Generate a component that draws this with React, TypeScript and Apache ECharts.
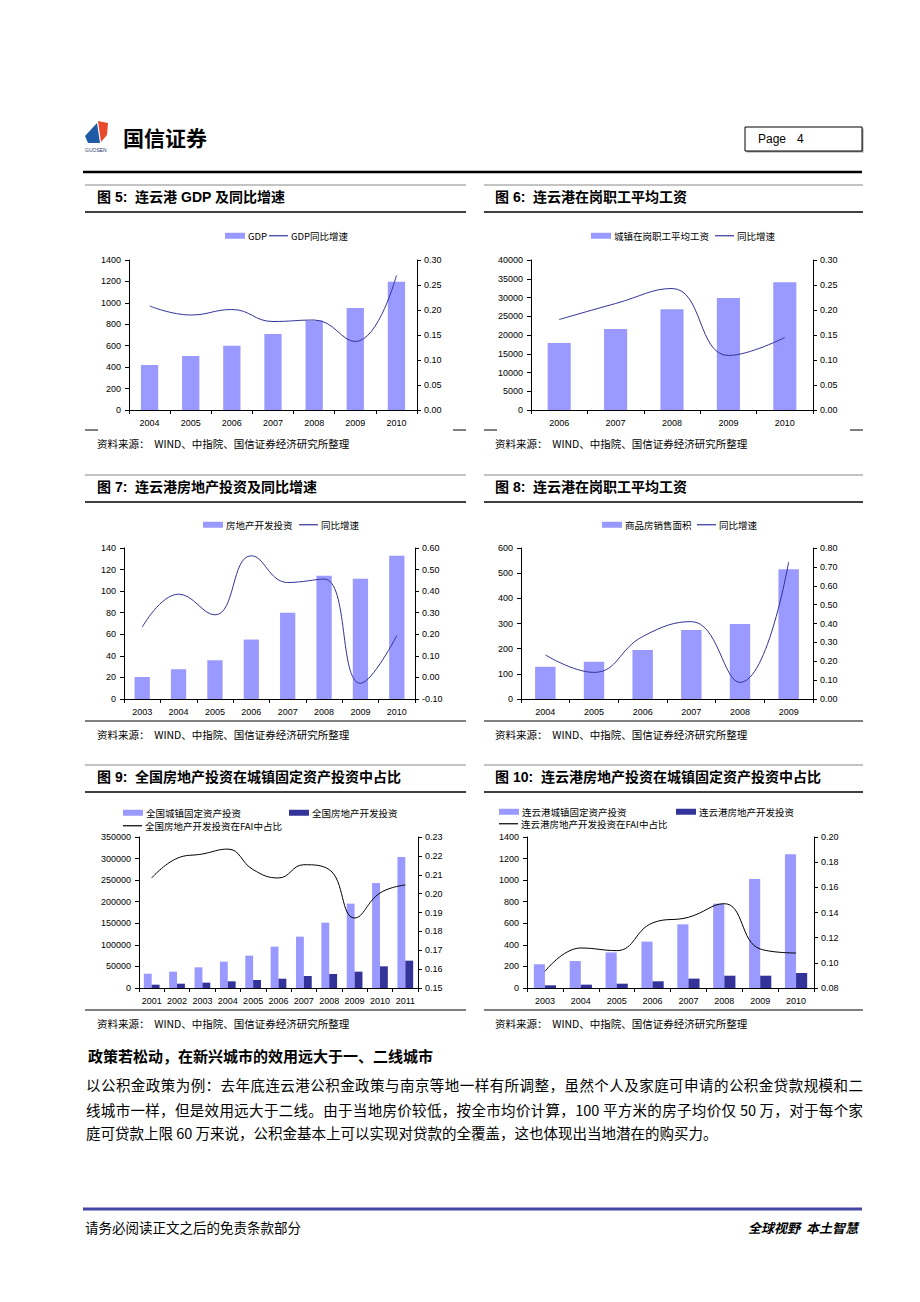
import React, { useEffect, useRef } from 'react';
import * as echarts from 'echarts';

// ---------- DATA ----------
const c5Years = ['2004', '2005', '2006', '2007', '2008', '2009', '2010'];
const c5Gdp = [420, 504, 600, 709, 834, 952, 1198];
const c5Growth = [0.208, 0.19, 0.201, 0.177, 0.18, 0.137, 0.269];

const c6Years = ['2006', '2007', '2008', '2009', '2010'];
const c6Wage = [17900, 21600, 26900, 29900, 34100];
const c6Growth = [0.181, 0.213, 0.243, 0.109, 0.145];

const c7Years = ['2003', '2004', '2005', '2006', '2007', '2008', '2009', '2010'];
const c7Invest = [20.4, 27.6, 35.9, 55.1, 79.9, 114.3, 111.5, 132.9];
const c7Growth = [0.233, 0.386, 0.29, 0.564, 0.44, 0.456, -0.027, 0.194];

const c8Years = ['2004', '2005', '2006', '2007', '2008', '2009'];
const c8Area = [128, 148, 195, 274, 298, 516];
const c8Growth = [0.234, 0.141, 0.331, 0.41, 0.088, 0.726];

const c9Years = ['2001', '2002', '2003', '2004', '2005', '2006', '2007', '2008', '2009', '2010', '2011'];
const c9Fai = [33200, 37900, 47900, 61000, 75000, 95800, 119000, 151400, 195500, 243400, 303600];
const c9Re = [7700, 10000, 12400, 15500, 18500, 21600, 27800, 32500, 37900, 50200, 63400];
const c9Share = [0.2083, 0.2187, 0.221, 0.2236, 0.2127, 0.2083, 0.2153, 0.2127, 0.1871, 0.2003, 0.2046];

const c10Years = ['2003', '2004', '2005', '2006', '2007', '2008', '2009', '2010'];
const c10Fai = [220, 250, 330, 430, 590, 782, 1010, 1239];
const c10Re = [25, 31, 40, 62, 87, 114, 114, 139];
const c10Share = [0.0932, 0.1118, 0.1097, 0.1317, 0.1362, 0.147, 0.111, 0.1078];

// axis ranges [min, max, interval]
const c5LeftAxis = [0, 1400, 200];
const c5RightAxis = [0, 0.3, 0.05];
const c6LeftAxis = [0, 40000, 5000];
const c6RightAxis = [0, 0.3, 0.05];
const c7LeftAxis = [0, 140, 20];
const c7RightAxis = [-0.1, 0.6, 0.1];
const c8LeftAxis = [0, 600, 100];
const c8RightAxis = [0, 0.8, 0.1];
const c9LeftAxis = [0, 350000, 50000];
const c9RightAxis = [0.15, 0.23, 0.01];
const c10LeftAxis = [0, 1400, 200];
const c10RightAxis = [0.08, 0.2, 0.02];

const titles = [
  '图 5:  连云港 GDP 及同比增速',
  '图 6:  连云港在岗职工平均工资',
  '图 7:  连云港房地产投资及同比增速',
  '图 8:  连云港在岗职工平均工资',
  '图 9:  全国房地产投资在城镇固定资产投资中占比',
  '图 10:  连云港房地产投资在城镇固定资产投资中占比',
];
const sourceText = '资料来源：  WIND、中指院、国信证券经济研究所整理';
const sectionHeading = '政策若松动，在新兴城市的效用远大于一、二线城市';
const bodyLines = [
  '以公积金政策为例：去年底连云港公积金政策与南京等地一样有所调整，虽然个人及家庭可申请的公积金贷款规模和二',
  '线城市一样，但是效用远大于二线。由于当地房价较低，按全市均价计算，100 平方米的房子均价仅 50 万，对于每个家',
  '庭可贷款上限 60 万来说，公积金基本上可以实现对贷款的全覆盖，这也体现出当地潜在的购买力。',
];

// ---------- STYLE ----------
const LIGHT = '#9999ff';
const DARK = '#333399';
const LINE_BLUE = '#333399';
const CJK = '"Noto Sans CJK SC"';
const LAT = '"Liberation Sans", "Noto Sans CJK SC"';

type Cfg = {
  grid: number[];
  cats: string[];
  left: number[];
  right: number[];
  bars: { name: string; data: number[]; color: string }[];
  line: { name: string; data: number[]; color: string };
  barWidth: string;
  legends: { name: string; x: number; y: number; kind: 'bar' | 'line' }[];
};

const charts: Cfg[] = [
  {
    grid: [129, 260, 288, 150], cats: c5Years, left: c5LeftAxis, right: c5RightAxis,
    bars: [{ name: 'GDP', data: c5Gdp, color: LIGHT }],
    line: { name: 'GDP同比增速', data: c5Growth, color: LINE_BLUE }, barWidth: '42%',
    legends: [
      { name: 'GDP', x: 225, y: 237, kind: 'bar' },
      { name: 'GDP同比增速', x: 269, y: 237, kind: 'line' },
    ],
  },
  {
    grid: [531, 260, 282, 150], cats: c6Years, left: c6LeftAxis, right: c6RightAxis,
    bars: [{ name: '城镇在岗职工平均工资', data: c6Wage, color: LIGHT }],
    line: { name: '同比增速', data: c6Growth, color: LINE_BLUE }, barWidth: '41%',
    legends: [
      { name: '城镇在岗职工平均工资', x: 591, y: 237, kind: 'bar' },
      { name: '同比增速', x: 715, y: 237, kind: 'line' },
    ],
  },
  {
    grid: [124, 548, 291, 151], cats: c7Years, left: c7LeftAxis, right: c7RightAxis,
    bars: [{ name: '房地产开发投资', data: c7Invest, color: LIGHT }],
    line: { name: '同比增速', data: c7Growth, color: LINE_BLUE }, barWidth: '42%',
    legends: [
      { name: '房地产开发投资', x: 203, y: 526, kind: 'bar' },
      { name: '同比增速', x: 299, y: 526, kind: 'line' },
    ],
  },
  {
    grid: [521, 548, 292, 151], cats: c8Years, left: c8LeftAxis, right: c8RightAxis,
    bars: [{ name: '商品房销售面积', data: c8Area, color: LIGHT }],
    line: { name: '同比增速', data: c8Growth, color: LINE_BLUE }, barWidth: '42%',
    legends: [
      { name: '商品房销售面积', x: 602, y: 526, kind: 'bar' },
      { name: '同比增速', x: 697, y: 526, kind: 'line' },
    ],
  },
  {
    grid: [139, 837, 279, 151], cats: c9Years, left: c9LeftAxis, right: c9RightAxis,
    bars: [
      { name: '全国城镇固定资产投资', data: c9Fai, color: LIGHT },
      { name: '全国房地产开发投资', data: c9Re, color: DARK },
    ],
    line: { name: '全国房地产开发投资在FAI中占比', data: c9Share, color: '#000' }, barWidth: '31%',
    legends: [
      { name: '全国城镇固定资产投资', x: 123, y: 814, kind: 'bar' },
      { name: '全国房地产开发投资', x: 289, y: 814, kind: 'bar' },
      { name: '全国房地产开发投资在FAI中占比', x: 123, y: 827, kind: 'line' },
    ],
  },
  {
    grid: [527, 837, 287, 151], cats: c10Years, left: c10LeftAxis, right: c10RightAxis,
    bars: [
      { name: '连云港城镇固定资产投资', data: c10Fai, color: LIGHT },
      { name: '连云港房地产开发投资', data: c10Re, color: DARK },
    ],
    line: { name: '连云港房地产开发投资在FAI中占比', data: c10Share, color: '#000' }, barWidth: '31%',
    legends: [
      { name: '连云港城镇固定资产投资', x: 499, y: 813, kind: 'bar' },
      { name: '连云港房地产开发投资', x: 676, y: 813, kind: 'bar' },
      { name: '连云港房地产开发投资在FAI中占比', x: 499, y: 825, kind: 'line' },
    ],
  },
];

function buildOption() {
  const grid: any[] = [];
  const xAxis: any[] = [];
  const yAxis: any[] = [];
  const series: any[] = [];
  const legend: any[] = [];
  const axisLineStyle = { color: '#000', width: 1 };
  const labelStyle = { fontSize: 9, color: '#000', fontFamily: LAT };

  charts.forEach((c, i) => {
    grid.push({ left: c.grid[0], top: c.grid[1], width: c.grid[2], height: c.grid[3], containLabel: false, outerBoundsMode: 'none' });
    xAxis.push({
      gridIndex: i, type: 'category', data: c.cats, boundaryGap: true,
      axisLine: { show: true, lineStyle: axisLineStyle },
      axisTick: { show: true, length: 4, inside: false, alignWithLabel: false, lineStyle: axisLineStyle },
      axisLabel: { ...labelStyle, margin: 8, interval: 0 },
      splitLine: { show: false },
    });
    yAxis.push({
      gridIndex: i, type: 'value', position: 'left',
      min: c.left[0], max: c.left[1], interval: c.left[2],
      axisLine: { show: true, lineStyle: axisLineStyle },
      axisTick: { show: true, length: 4, inside: false, lineStyle: axisLineStyle },
      axisLabel: { ...labelStyle, margin: 8, formatter: (v: number) => String(Math.round(v)) },
      splitLine: { show: false },
    });
    yAxis.push({
      gridIndex: i, type: 'value', position: 'right',
      min: c.right[0], max: c.right[1], interval: c.right[2],
      axisLine: { show: true, lineStyle: axisLineStyle },
      axisTick: { show: true, length: 4, inside: false, lineStyle: axisLineStyle },
      axisLabel: { ...labelStyle, margin: 7, formatter: (v: number) => (Math.abs(v) < 1e-9 ? 0 : v).toFixed(2) },
      splitLine: { show: false },
    });
    c.bars.forEach((b) => {
      series.push({
        type: 'bar', name: b.name, xAxisIndex: i, yAxisIndex: 2 * i, data: b.data,
        barWidth: c.barWidth, barGap: '0%', itemStyle: { color: b.color },
      });
    });
    series.push({
      type: 'line', name: c.line.name, xAxisIndex: i, yAxisIndex: 2 * i + 1, data: c.line.data,
      smooth: 0.45, symbol: 'none', showSymbol: false,
      lineStyle: { color: c.line.color, width: 1 }, itemStyle: { color: c.line.color }, z: 5,
    });
    c.legends.forEach((l) => {
      const isLine = l.kind === 'line';
      legend.push({
        left: l.x, top: l.y - 6, padding: 0, itemGap: 4, itemWidth: isLine ? 19 : 20, itemHeight: isLine ? 1.2 : 6,
        selectedMode: false,
        data: [{ name: l.name, icon: 'rect' }],
        textStyle: { fontSize: 9.5, color: '#000', fontFamily: CJK, padding: [0, 0, 0, -2] },
      });
    });
  });

  const g: any[] = [];
  const line = (x1: number, y1: number, x2: number, y2: number, stroke: string, lw: number) =>
    g.push({ type: 'line', silent: true, shape: { x1, y1, x2, y2 }, style: { stroke, lineWidth: lw } });
  const text = (x: number, y: number, t: string, font: string, align = 'left', fill = '#000') =>
    g.push({ type: 'text', silent: true, x, y, style: { text: t, font, fill, align, verticalAlign: 'middle' } });

  // header
  g.push({ type: 'polygon', silent: true, shape: { points: [[85, 136], [97, 123], [100, 143], [88, 143]] }, style: { fill: '#1f5aa6' } });
  g.push({ type: 'polygon', silent: true, shape: { points: [[98, 121], [108, 123], [107, 135], [101, 142]] }, style: { fill: '#e84a2c' } });
  text(85, 150, 'GUOSEN', '5px "Liberation Sans"', 'left', '#1f3a6e');
  text(123, 137, '国信证券', `bold 21px ${CJK}`);
  g.push({ type: 'rect', silent: true, shape: { x: 746.5, y: 128.5, width: 117, height: 24 }, style: { fill: '#999' } });
  g.push({ type: 'rect', silent: true, shape: { x: 745, y: 127, width: 117, height: 24 }, style: { fill: '#fff', stroke: '#000', lineWidth: 1 } });
  text(758, 139, 'Page', '12px "Liberation Sans"');
  text(797, 139, '4', '12px "Liberation Sans"');
  line(83, 172, 862, 172, '#000', 2.5);

  // panels
  const rows = [
    { T: 185, B: 430, full: false },
    { T: 475, B: 721, full: true },
    { T: 765, B: 1010, full: true },
  ];
  const cols = [
    { x0: 85, x1: 466, tx: 97 },
    { x0: 484, x1: 863, tx: 495 },
  ];
  rows.forEach((r, ri) => {
    cols.forEach((c, ci) => {
      line(c.x0, r.T, c.x1, r.T, '#888', 1);
      text(c.tx, r.T + 12, titles[ri * 2 + ci], `bold 14px ${LAT}`);
      line(c.x0, r.T + 27, c.x1, r.T + 27, '#000', 1.5);
      if (r.full) {
        line(c.x0, r.B, c.x1, r.B, '#000', 1);
      } else {
        line(c.x0, r.B, c.x0 + 13, r.B, '#000', 1);
        line(c.x1 - 13, r.B, c.x1, r.B, '#000', 1);
      }
      text(c.tx, r.B + 13, sourceText, `10.5px ${CJK}`);
    });
  });

  // section heading
  text(88, 1055, sectionHeading, `bold 15px ${CJK}`);

  // footer
  line(83, 1209, 862, 1209, '#4646a6', 3);
  text(85, 1227, '请务必阅读正文之后的免责条款部分', `13.5px ${CJK}`);
  text(858, 1227, '全球视野  本土智慧', `italic bold 13px ${CJK}`, 'right');

  return {
    animation: false,
    backgroundColor: '#fff',
    textStyle: { fontFamily: LAT },
    grid, xAxis, yAxis, series, legend,
    tooltip: { show: false },
    graphic: { elements: g },
  };
}

export default function App() {
  const ref = useRef<HTMLDivElement>(null);
  useEffect(() => {
    if (!ref.current) return;
    const chart = echarts.init(ref.current, null, { renderer: 'svg' });
    chart.setOption(buildOption() as any);
    return () => chart.dispose();
  }, []);
  const bodyY = [1085, 1110, 1133];
  return (
    <div style={{ position: 'absolute', left: 0, top: 0, width: 920, height: 1302, background: '#fff' }}>
      <div ref={ref} style={{ position: 'absolute', left: 0, top: 0, width: 920, height: 1302 }} />
      {bodyLines.map((t, i) => (
        <div
          key={i}
          style={{
            position: 'absolute', left: 86, top: bodyY[i] - 11, width: 777, height: 22,
            lineHeight: '22px', fontSize: 14.5, fontFamily: '"Noto Sans CJK SC"', color: '#000',
            textAlign: i < 2 ? 'justify' : 'left',
            textAlignLast: i < 2 ? 'justify' : 'left',
            whiteSpace: 'nowrap',
          } as any}
        >
          {t}
        </div>
      ))}
    </div>
  );
}
